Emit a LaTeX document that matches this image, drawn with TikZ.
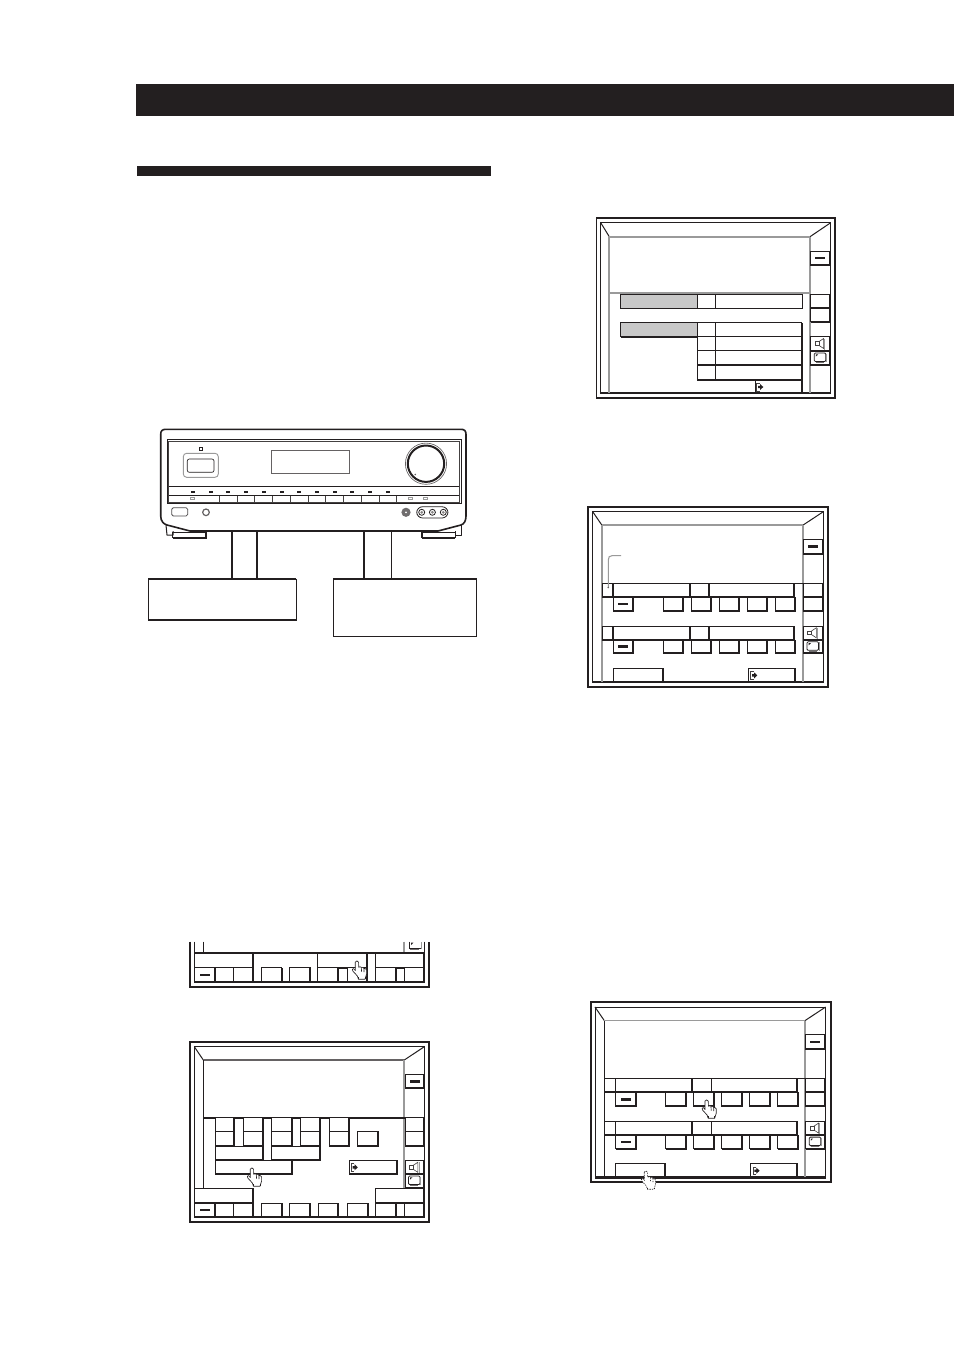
\documentclass[tikz,border=0pt]{standalone}
\definecolor{ink}{HTML}{231F20}
\definecolor{rg}{HTML}{9A9A9A}
\definecolor{cellg}{HTML}{C8C8C8}
\tikzset{
  thinl/.style={draw=ink,line width=0.75pt},
  thickl/.style={draw=ink,line width=1.5pt},
  hair/.style={draw=ink!85,line width=0.45pt},
  roomg/.style={draw=rg,line width=1.3pt},
  outer/.style={draw=ink,line width=1.4pt},
  handl/.style={draw=ink,line width=0.5pt,fill=white},
  handd/.style={draw=ink,line width=0.45pt,dash pattern=on 1pt off 0.8pt,fill=white},
}
% button: thin box with heavy right and bottom edge
\newcommand{\btn}[4]{%
  \fill[white] (#1,#2) rectangle (#3,#4);
  \draw[thinl] (#1,#2) rectangle (#3,#4);
  \draw[thickl,line cap=square] (#1,#4) -- (#3,#4) -- (#3,#2);}
\newcommand{\minusbtn}[4]{%
  \btn{#1}{#2}{#3}{#4}
  \fill[ink] ({(#1+#3)/2-5},{(#2+#4)/2-1.3}) rectangle ({(#1+#3)/2+5},{(#2+#4)/2+1.3});}
\newcommand{\speaker}[2]{%
  \begin{scope}[shift={(#1,#2)}]
    \draw[hair] (-5,-1.8) rectangle (-1,1.8);
    \draw[hair] (-1,-1.8) -- (3.8,-5) -- (3.8,5) -- (-1,1.8);
    \draw[draw=rg,line width=0.6pt] (5,-5) -- (5,6);
  \end{scope}}
\newcommand{\tvset}[2]{%
  \begin{scope}[shift={(#1,#2)}]
    \draw[draw=ink,line width=0.6pt,rounded corners=0.8pt] (-5.5,-5) rectangle (6,3.5);
    \draw[draw=rg,line width=0.7pt] (6.8,-4.5) -- (6.8,4);
    \fill[ink!65] (-4,3.9) rectangle (4,5);
    \fill[ink] (-4,-3.6) -- (-1.6,-3.6) -- (-4,-1.4) -- cycle;
  \end{scope}}
\newcommand{\exiticon}[2]{%
  \begin{scope}[shift={(#1,#2)}]
    \draw[hair] (3,-3.8) -- (0,-3.8) -- (0,4) -- (3,4);
    \fill[ink] (1.5,-1.2) -- (3.6,-1.2) -- (3.6,-3) -- (6.8,0) -- (3.6,3) -- (3.6,1.2) -- (1.5,1.2) -- cycle;
  \end{scope}}
\newcommand{\pointer}[3]{%
  \begin{scope}[shift={(#2,#3)}]
    \draw[#1,line join=round] (-1.8,1.2) .. controls (-1.8,-0.6) and (1.6,-0.6) .. (1.6,1.2)
      -- (1.7,6.2) -- (3.2,5.8) -- (4.4,6.4) -- (6,6.4) -- (7,7.4) -- (8.4,7.6) -- (9.6,9)
      -- (9.6,13) -- (8,18.2) -- (1.4,18.2) -- (0.4,15) -- (-4.2,10) -- (-4.6,8.2) -- (-3.2,7.6) -- (-1.6,9.6) -- cycle;
    \draw[#1,fill=none] (4.3,6.4) -- (4.5,10.5) (7,7.4) -- (7,11);
    \draw[#1,fill=none] (1.4,18.2) -- (1.4,16) (8,18.2) -- (8,16);
  \end{scope}}
% frame of a screen
\newcommand{\screenframe}[8]{%
  \draw[outer] (#1,#2) rectangle (#3,#4);
  \draw[thinl] (#5,#6) rectangle (#7,#8);
  \draw[draw=ink,line width=1.7pt] (#5,#8) -- (#7,#8);}
% two-row layout, drawn in the coordinates of the upper right screen
\newcommand{\channelrow}[1]{%
  \btn{602}{#1}{613.3}{\the\numexpr#1+14\relax}
  \btn{613.3}{#1}{690}{\the\numexpr#1+14\relax}
  \btn{690}{#1}{709.3}{\the\numexpr#1+14\relax}
  \btn{709.3}{#1}{794.3}{\the\numexpr#1+14\relax}}
\newcommand{\fivebtns}[2]{%
  \minusbtn{613.3}{#1}{633.3}{#2}
  \btn{663.3}{#1}{683.3}{#2}
  \btn{691.3}{#1}{711.3}{#2}
  \btn{719.3}{#1}{739.3}{#2}
  \btn{747.3}{#1}{767.3}{#2}
  \btn{775.3}{#1}{795.3}{#2}}
\newcommand{\twoRowScreen}[1]{%
  \screenframe{588.3}{506.7}{828.3}{686.7}{592.7}{511.7}{823.3}{682.3}
  \draw[thinl] (592.7,511.7) -- (602,525.3) (823.3,511.7) -- (802.7,525.3);
  \draw[roomg] (602,525.3) -- (802.7,525.3);
  \draw[#1] (602,525.3) -- (602,681.5);
  \draw[roomg] (802.7,525.3) -- (802.7,681.5);
  \draw[thinl] (794.3,583) -- (823.3,583);
  \channelrow{583}
  \fivebtns{597}{611}
  \channelrow{626}
  \fivebtns{640}{653.3}
  \btn{613.3}{668.3}{662.7}{682}
  \btn{748.3}{668.3}{795}{682}
  \exiticon{750.5}{675.4}
  \minusbtn{803.3}{539.3}{822.7}{554}
  \btn{803.3}{583}{822.7}{597}
  \btn{803.3}{597}{822.7}{611}
  \btn{803.3}{626}{822.7}{639.5}
  \btn{803.3}{640}{822.7}{653.3}
  \speaker{812.5}{632.8}
  \tvset{812.5}{646.8}}
\begin{document}
\begin{tikzpicture}[x=0.75pt,y=-0.75pt]
\useasboundingbox (0,0) rectangle (954,1350);
\fill[white] (0,0) rectangle (954,1350);
% title bars
\fill[ink] (136,84) rectangle (954,116);
\fill[ink] (137,166) rectangle (491,176);

% ---------- receiver ----------
\draw[thinl,fill=white,line join=round] (166,525) -- (167,535) -- (173,535) -- (173,531);
\draw[thinl,fill=white,line join=round] (461,525) -- (461,535) -- (455,535) -- (455,531);
\draw[thinl] (172.5,532.5) rectangle (206,537.5);
\draw[thickl] (172.5,537.5) -- (205.5,537.5) -- (205.5,532);
\draw[thinl] (421.5,532.5) rectangle (455,537.5);
\draw[thickl] (421.5,537.5) -- (455,537.5);
\draw[thickl] (421.5,537.5) -- (421.5,532);
\draw[draw=ink,line width=1.2pt,fill=white,line join=round]
  (165.7,429.3) -- (461,429.3) .. controls (464.5,429.3) and (466,431) .. (466,434.3)
  -- (466,516) .. controls (466,521) and (464,524) .. (461,525) -- (438,531) -- (190,531) -- (167,525)
  .. controls (163.5,524) and (160.7,521) .. (160.7,516)
  -- (160.7,434.3) .. controls (160.7,431) and (162.2,429.3) .. (165.7,429.3) -- cycle;
\draw[thinl] (167,439) rectangle (461,503.3);
\draw[hair] (168.6,441.3) rectangle (459.4,502.5);
\draw[thinl] (168.6,486.3) -- (459.4,486.3);
\draw[thinl] (168.6,495.5) -- (459.4,495.5);
\foreach \lx in {189,242,295,348,401,455,508,561,615,667,720,773}
  \fill[ink] ({130+\lx/3-2},491.4) rectangle ({130+\lx/3+2},493.2);
\foreach \lx in {269,322,374,428,481,535,587,641,694,748,800}
  \draw[hair] ({130+\lx/3},495.5) -- ({130+\lx/3},502.5);
\foreach \lx in {187,840,886}
  \draw[draw=rg,line width=0.5pt] ({130+\lx/3-2},497.2) rectangle ({130+\lx/3+2},499.8);
\draw[thinl] (199.5,447.3) rectangle (202.7,450);
\draw[draw=rg,line width=0.7pt,rounded corners=2.5pt] (183.3,453.3) rectangle (218.3,477.3);
\draw[draw=ink,line width=0.5pt,rounded corners=1.5pt] (187.3,459) rectangle (214,472.3);
\draw[draw=ink!70,line width=0.6pt] (271.3,450) rectangle (349,473.3);
\draw[draw=ink!70,line width=0.5pt] (426,463.7) circle[radius=20.6];
\draw[thickl] (426,463.7) circle[radius=18.2];
\fill[ink!70] (415.3,474.5) circle[radius=0.9];
\draw[draw=ink!80,line width=0.6pt,rounded corners=1.2pt] (171.7,507.7) rectangle (187.7,516);
\draw[draw=ink!70,line width=0.9pt] (206,512.3) circle[radius=3.3];
\fill[ink!65] (406,512.3) circle[radius=4.6];
\fill[white] (406,512.3) circle[radius=1];
\draw[draw=ink,line width=0.6pt,rounded corners=4.5pt] (416.7,506.7) rectangle (448,518);
\foreach \cx in {421.7,432.4,443.3}{
  \draw[draw=ink,line width=0.6pt] (\cx,512.3) circle[radius=3];
  \fill[ink!55] (\cx,512.3) circle[radius=1.5];}
% cables and boxes
\draw[thickl] (231.7,531.5) -- (231.7,579);
\draw[thickl] (256.7,531.5) -- (256.7,579);
\draw[thickl] (364,531.5) -- (364,579);
\draw[thinl] (391.3,531.5) -- (391.3,579);
\draw[thinl] (148.3,579) rectangle (296,620);
\draw[thickl] (148.3,620) -- (296,620);
\draw[thickl] (148.3,579) -- (296,579);
\draw[thinl] (333.3,579) rectangle (476.7,636.7);
\draw[thickl] (333.3,579) -- (476.7,579);

% ---------- screen top right ----------
\screenframe{596.5}{218}{835}{398}{600.7}{222.7}{830.7}{393.3}
\draw[thinl] (600.7,222.7) -- (609.3,236.7) (830.7,222.7) -- (810,236.7);
\draw[roomg] (609.3,236.7) -- (810,236.7);
\draw[roomg] (609.3,236.7) -- (609.3,392.5);
\draw[roomg] (810,236.7) -- (810,392.5);
\draw[roomg] (609.3,293.3) -- (810,293.3);
\draw[thinl,fill=cellg] (620.7,294.3) rectangle (697.3,308.3);
\draw[thinl] (697.3,294.3) rectangle (715.7,308.3);
\draw[thinl] (715.7,294.3) rectangle (802.3,308.3);
\draw[thinl] (620.7,308.3) -- (802.3,308.3);
\draw[thinl,fill=cellg] (620.7,322.7) rectangle (697.3,336.7);
\draw[thickl] (620.7,336.7) -- (697.3,336.7);
\foreach \ya/\yb in {322.7/336.7,336.7/350.7,350.7/365,365/380}{
  \btn{697.3}{\ya}{715.7}{\yb}
  \btn{715.7}{\ya}{801.7}{\yb}
}
\btn{755.7}{380}{801.7}{393.3}
\draw[draw=ink,line width=1.7pt] (755.7,393.3) -- (801.7,393.3);
\exiticon{756.5}{387}
\minusbtn{810.7}{251.3}{830}{265}
\btn{810.7}{294.3}{830}{308}
\btn{810.7}{308.3}{830}{321.7}
\btn{810.7}{336.7}{830}{350.7}
\btn{810.7}{351}{830}{365}
\speaker{819.8}{343.5}
\tvset{819.8}{358}

% ---------- screen with leader ----------
\twoRowScreen{roomg}
\draw[draw=rg,line width=0.8pt] (621,555.7) -- (612,555.7) .. controls (609.5,555.7) and (608.3,557) .. (608.3,560) -- (608.3,587);
\fill[ink!70] (608.3,587.5) circle[radius=0.9];

% ---------- screen with two hands ----------
\begin{scope}[shift={(2.3,495.3)}]
  \twoRowScreen{thinl}
\end{scope}
\pointer{handl}{706.7}{1100}
\pointer{handd}{646}{1171}

% ---------- lower left strip ----------
\draw[outer] (190,941.7) -- (190,986.7) -- (429,986.7) -- (429,941.7);
\draw[thinl] (194.3,941.7) -- (194.3,982.3);
\draw[thinl] (424.3,941.7) -- (424.3,982.3);
\draw[draw=ink,line width=1.7pt] (194.3,982.3) -- (424.3,982.3);
\draw[thinl] (203.3,941.7) -- (203.3,953.3);
\draw[roomg] (404.3,941.7) -- (404.3,953.3);
\draw[thickl] (194.3,953.3) -- (424.3,953.3);
\draw[thinl] (253.3,953.3) -- (253.3,982);
\btn{194.3}{953.3}{253.3}{967.7}
\btn{317.7}{953.3}{367.3}{967.7}
\btn{375.7}{953.3}{424.3}{967.7}
\minusbtn{194.3}{967.7}{215}{982}
\btn{215.7}{967.7}{233.7}{982}
\btn{233.7}{967.7}{253.3}{982}
\btn{261.7}{967.7}{281.7}{982}
\btn{289.3}{967.7}{310}{982}
\btn{317.7}{967.7}{337.7}{982}
\btn{347.3}{967.7}{367.3}{982}
\btn{375.7}{967.7}{395.7}{982}
\btn{404.3}{967.7}{424.3}{982}
\draw[thinl] (395.7,967.7) -- (404.3,967.7);
\draw[thinl] (409,941.7) -- (409,948.5) -- (421,948.5) -- (421,941.7);
\fill[ink!65] (410,949) rectangle (419,950.2);
\fill[ink] (411,942.6) -- (413.4,942.6) -- (411,945) -- cycle;
\draw[draw=rg,line width=0.7pt] (421.8,942) -- (421.8,949);
\pointer{handl}{357}{961}

% ---------- lower left screen ----------
\screenframe{190}{1041.7}{429}{1221.7}{194.3}{1046.7}{424.3}{1217.3}
\draw[thinl] (194.3,1046.7) -- (203.3,1060) (424.3,1046.7) -- (404.3,1060);
\draw[draw=ink!70,line width=0.9pt] (203.3,1060) -- (404.3,1060);
\draw[thinl] (203.3,1060) -- (203.3,1188.3);
\draw[roomg] (404.3,1060) -- (404.3,1188.3);
\draw[thickl] (203.3,1117.7) -- (424.3,1117.7);
\foreach \xa/\xb in {215/234.3,243.3/263,271.7/291.7,300.7/320,329.3/349}{
  \btn{\xa}{1117.7}{\xb}{1131.7}
  \btn{\xa}{1131.7}{\xb}{1146}
}
\btn{357.3}{1131.7}{378.3}{1146}
\btn{215}{1146}{263}{1160.3}
\btn{271.7}{1146}{320}{1160.3}
\btn{215}{1160.3}{292.3}{1174.3}
\btn{349.3}{1160.3}{396.7}{1174.3}
\exiticon{351}{1167.3}
\minusbtn{405}{1074.3}{424.3}{1088.3}
\btn{405}{1117.7}{424.3}{1131.7}
\btn{405}{1131.7}{424.3}{1145.7}
\btn{405}{1160.3}{424.3}{1174.3}
\btn{405}{1174.3}{424.3}{1187.7}
\speaker{414}{1167.3}
\tvset{414}{1181}
\btn{194.3}{1188.3}{253.3}{1203.3}
\btn{375.7}{1188.3}{424.3}{1202.7}
\minusbtn{194.3}{1203.3}{215}{1217}
\btn{215.7}{1203.3}{233.7}{1217}
\btn{233.7}{1203.3}{253.3}{1217}
\btn{261.7}{1203.3}{281.7}{1217}
\btn{289.3}{1203.3}{310}{1217}
\btn{318.3}{1203.3}{338.3}{1217}
\btn{347.3}{1203.3}{368.3}{1217}
\btn{375.7}{1203.3}{395.7}{1217}
\btn{404.3}{1203.3}{424.3}{1217}
\draw[thinl] (395.7,1203.3) -- (404.3,1203.3);
\draw[draw=ink,line width=1.7pt] (194.3,1217.3) -- (424.3,1217.3);
\pointer{handl}{252}{1168}
\end{tikzpicture}
\end{document}
